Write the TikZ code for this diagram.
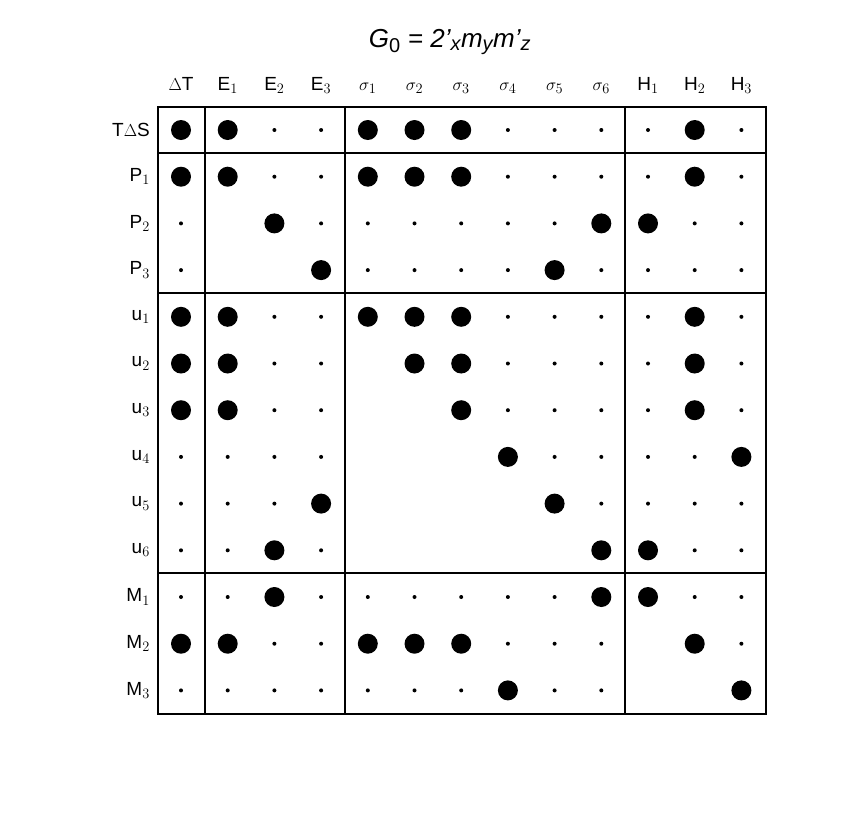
\documentclass[tikz,border=0pt]{standalone}
\usepackage{fontspec}
\setmainfont{Liberation Sans}
\begin{document}
\begin{tikzpicture}[x=1pt,y=-1pt]
        \tikzset{big/.style = {shape=circle,fill=black,inner sep=0pt,minimum size=20pt}}
        \tikzset{small/.style = {shape=circle,fill=black,inner sep=0pt,minimum size=4pt}}
        \tikzset{lab/.style = {font=\fontsize{19}{19}\selectfont,inner sep=0pt}}
        \tikzset{frame/.style = {line width=2.5pt}}
        \useasboundingbox (0,0) rectangle (856,812);
        % title
        \node[font=\fontsize{26}{26}\selectfont\itshape] (title) at (450,42) {G$_{\mbox{\upshape\fontsize{20}{20}\selectfont 0}}$ = 2'$_{\mbox{\fontsize{20}{20}\selectfont x}}$m$_{\mbox{\fontsize{20}{20}\selectfont y}}$m'$_{\mbox{\fontsize{20}{20}\selectfont z}}$};
        % column labels
        \foreach \t [count=\i] in {$\Delta$T,E$_1$,E$_2$,E$_3$,$\sigma_1$,$\sigma_2$,$\sigma_3$,$\sigma_4$,$\sigma_5$,$\sigma_6$,H$_1$,H$_2$,H$_3$}
          \node[lab,anchor=base] (col\i) at ({181+46.7*(\i-1)},90) {\t};
        % row labels
        \foreach \t [count=\j] in {T$\Delta$S,P$_1$,P$_2$,P$_3$,u$_1$,u$_2$,u$_3$,u$_4$,u$_5$,u$_6$,M$_1$,M$_2$,M$_3$}
          \node[lab,anchor=east] (row\j) at (150,{130+46.7*(\j-1)}) {\t};
        % cells: B big, s small, o empty
        \foreach \r [count=\j] in {
            {B,B,s,s,B,B,B,s,s,s,s,B,s},
            {B,B,s,s,B,B,B,s,s,s,s,B,s},
            {s,o,B,s,s,s,s,s,s,B,B,s,s},
            {s,o,o,B,s,s,s,s,B,s,s,s,s},
            {B,B,s,s,B,B,B,s,s,s,s,B,s},
            {B,B,s,s,o,B,B,s,s,s,s,B,s},
            {B,B,s,s,o,o,B,s,s,s,s,B,s},
            {s,s,s,s,o,o,o,B,s,s,s,s,B},
            {s,s,s,B,o,o,o,o,B,s,s,s,s},
            {s,s,B,s,o,o,o,o,o,B,B,s,s},
            {s,s,B,s,s,s,s,s,s,B,B,s,s},
            {B,B,s,s,B,B,B,s,s,s,o,B,s},
            {s,s,s,s,s,s,s,B,s,s,o,o,B}}
          \foreach \c [count=\i] in \r {
            \if\c B \node[big] (cell\j-\i) at ({181+46.7*(\i-1)},{130+46.7*(\j-1)}) {};\fi
            \if\c s \node[small] (cell\j-\i) at ({181+46.7*(\i-1)},{130+46.7*(\j-1)}) {};\fi
          };
        % frame
        \draw[frame] (158,107) rectangle (766,714);
        \foreach \x in {205,345,625} \draw[frame] (\x,107) -- (\x,714);
        \foreach \y in {153,293,573} \draw[frame] (158,\y) -- (766,\y);
\end{tikzpicture}
\end{document}
